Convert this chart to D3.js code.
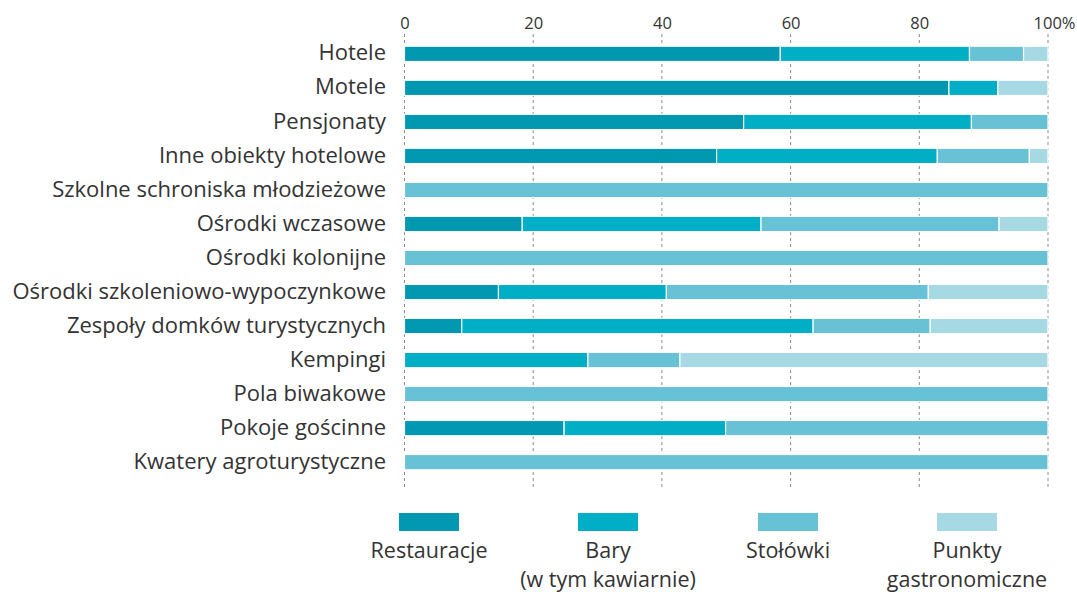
<!DOCTYPE html>
<html><head><meta charset="utf-8">
<script src="https://cdn.jsdelivr.net/npm/d3@7"></script>
<style>body{margin:0;background:#fff}svg{display:block}text{font-family:"Open Sans",sans-serif;fill:#333}</style>
</head><body><svg id="c" width="1077" height="592"></svg>
<script>
const categories = ["Hotele","Motele","Pensjonaty","Inne obiekty hotelowe","Szkolne schroniska młodzieżowe","Ośrodki wczasowe","Ośrodki kolonijne","Ośrodki szkoleniowo-wypoczynkowe","Zespoły domków turystycznych","Kempingi","Pola biwakowe","Pokoje gościnne","Kwatery agroturystyczne"];
const restauracje = [58.4,84.6,52.7,48.5,0,18.3,0,14.6,8.9,0,0,24.8,0];
const bary        = [29.4,7.6,35.4,34.3,0,37.1,0,26.1,54.6,28.5,0,25.1,0];
const stolowki    = [8.4,0,11.9,14.3,100,37.0,100,40.7,18.2,14.3,100,50.1,100];
const punkty      = [3.8,7.8,0,2.9,0,7.6,0,18.6,18.3,57.2,0,0,0];
const seriesNames = [["Restauracje"],["Bary","(w tym kawiarnie)"],["Stołówki"],["Punkty","gastronomiczne"]];
const colors = ["#0098b0","#00aec6","#67c2d5","#a6d9e4"];
const tickValues = [0,20,40,60,80,100];

const svg = d3.select("#c");
const x = d3.scaleLinear().domain([0,100]).range([404.5,1048]);
const y = d3.scaleBand().domain(categories).range([36,480]).paddingInner(0.55).paddingOuter(0.3);

// gridlines
svg.append("g").selectAll("line").data(tickValues).join("line")
  .attr("x1",d=>x(d)).attr("x2",d=>x(d)).attr("y1",34).attr("y2",487)
  .attr("stroke","#8a8a8a").attr("stroke-width",1).attr("stroke-dasharray","3,3");

// top axis labels
const ax = svg.append("g").attr("transform","translate(0,29)")
  .call(d3.axisTop(x).tickValues(tickValues).tickSize(0).tickPadding(0).tickFormat(d=>d===100?"100%":d));
ax.select(".domain").remove();
ax.selectAll("text").attr("font-size",16.5).attr("font-family","Open Sans").attr("fill","#333").attr("dy","0");
ax.selectAll(".tick").filter(d=>d===100).select("text").attr("dx",6);

const data = categories.map((c,i)=>({cat:c,restauracje:restauracje[i],bary:bary[i],stolowki:stolowki[i],punkty:punkty[i]}));
const keys = ["restauracje","bary","stolowki","punkty"];
const stack = d3.stack().keys(keys)(data);

svg.append("g").selectAll("g").data(stack).join("g").attr("fill",(d,i)=>colors[i])
  .selectAll("rect").data(d=>d.filter(p=>p[1]-p[0]>0)).join("rect")
  .attr("x",d=>x(d[0])).attr("width",d=>x(d[1])-x(d[0]))
  .attr("y",d=>y(d.data.cat)).attr("height",y.bandwidth())
  .attr("stroke","#fff").attr("stroke-width",1.2);

// category labels
svg.append("g").selectAll("text").data(categories).join("text")
  .attr("x",386).attr("y",d=>y(d)+y.bandwidth()/2).attr("dy","0.3em")
  .attr("text-anchor","end").attr("font-size",22).text(d=>d);

// legend
const lx = [429,608,788,967];
const lg = svg.append("g").selectAll("g").data(seriesNames).join("g")
  .attr("transform",(d,i)=>`translate(${lx[i]},0)`);
lg.append("rect").attr("x",-30).attr("y",513).attr("width",60).attr("height",18).attr("fill",(d,i)=>colors[i]);
lg.selectAll("text").data(d=>d).join("text").attr("text-anchor","middle")
  .attr("y",(d,j)=>558+j*29).attr("font-size",21.5).text(d=>d);
</script></body></html>
